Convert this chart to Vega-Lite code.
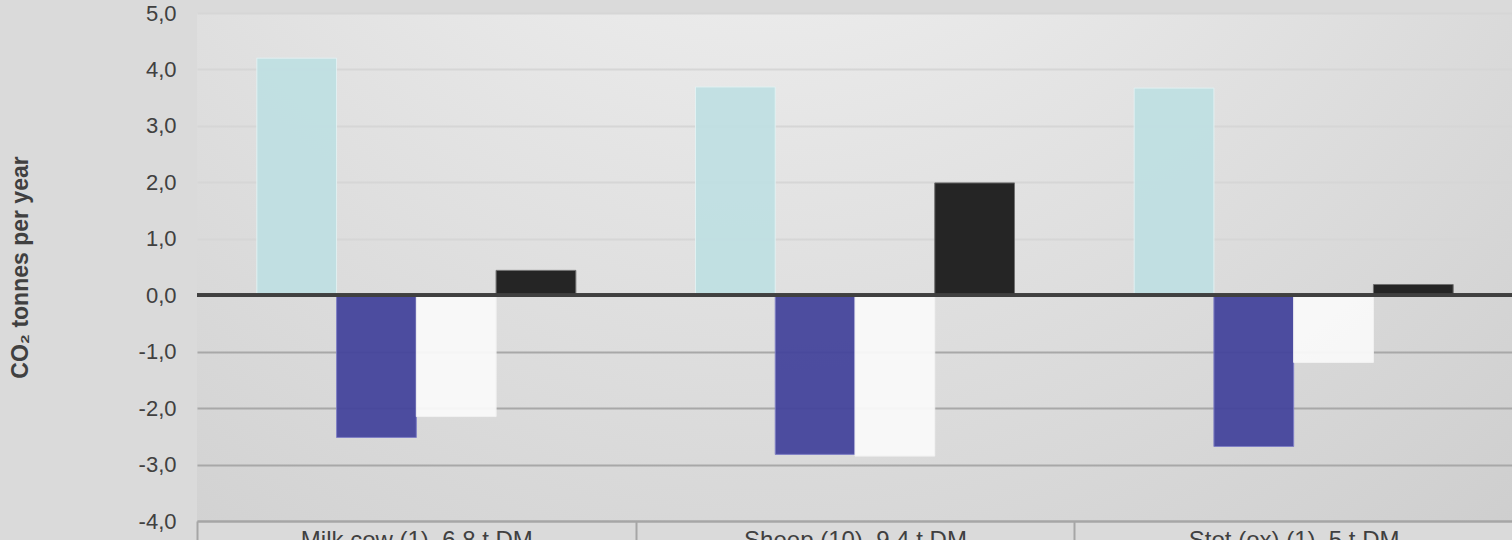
{
  "$schema": "https://vega.github.io/schema/vega-lite/v6.json",
  "width": 1316,
  "height": 508,
  "autosize": "none",
  "padding": {"left": 197, "top": 13, "right": 0, "bottom": 19},
  "background": "#dadada",
  "config": {
    "font": "Liberation Sans",
    "view": {
      "stroke": null,
      "fill": {
        "gradient": "radial",
        "x1": 0.43, "y1": 0.0, "r1": 0.0,
        "x2": 0.43, "y2": 0.0, "r2": 0.95,
        "stops": [
          {"offset": 0, "color": "#f9f9f9"},
          {"offset": 0.45, "color": "#e4e4e4"},
          {"offset": 1, "color": "#cccccc"}
        ]
      }
    }
  },
  "data": {
    "values": [
      {"animal": "Milk cow (1), 6.8 t DM", "series": "Emissions", "value": 4.20},
      {"animal": "Milk cow (1), 6.8 t DM", "series": "Sequestration A", "value": -2.52},
      {"animal": "Milk cow (1), 6.8 t DM", "series": "Sequestration B", "value": -2.15},
      {"animal": "Milk cow (1), 6.8 t DM", "series": "Net", "value": 0.44},
      {"animal": "Sheep (10), 9.4 t DM", "series": "Emissions", "value": 3.69},
      {"animal": "Sheep (10), 9.4 t DM", "series": "Sequestration A", "value": -2.82},
      {"animal": "Sheep (10), 9.4 t DM", "series": "Sequestration B", "value": -2.85},
      {"animal": "Sheep (10), 9.4 t DM", "series": "Net", "value": 1.99},
      {"animal": "Stot (ox) (1), 5 t DM", "series": "Emissions", "value": 3.67},
      {"animal": "Stot (ox) (1), 5 t DM", "series": "Sequestration A", "value": -2.68},
      {"animal": "Stot (ox) (1), 5 t DM", "series": "Sequestration B", "value": -1.19},
      {"animal": "Stot (ox) (1), 5 t DM", "series": "Net", "value": 0.19}
    ]
  },
  "layer": [
    {
      "mark": {"type": "bar", "strokeWidth": 1},
      "encoding": {
        "x": {
          "field": "animal",
          "type": "nominal",
          "sort": null,
          "scale": {"paddingInner": 0, "paddingOuter": 0},
          "axis": {
            "title": null,
            "labelAngle": 0,
            "labelFontSize": 24,
            "labelLimit": 0,
            "labelColor": "#404040",
            "labelPadding": -18,
            "labelBaseline": "top",
            "domainColor": "#a6a6a6",
            "domainWidth": 2,
            "tickColor": "#a6a6a6",
            "tickWidth": 2,
            "tickSize": 25,
            "tickBand": "extent",
            "grid": false
          }
        },
        "xOffset": {
          "field": "series",
          "type": "nominal",
          "sort": ["Emissions", "Sequestration A", "Sequestration B", "Net"],
          "scale": {"paddingInner": 0, "paddingOuter": 0.75}
        },
        "y": {
          "field": "value",
          "type": "quantitative",
          "scale": {"domain": [-4, 5], "nice": false, "zero": false},
          "axis": {
            "title": "CO₂ tonnes per year",
            "titleFontSize": 23,
            "titleFontWeight": "bold",
            "titleColor": "#404040",
            "titlePadding": 106,
            "labelFontSize": 22,
            "labelColor": "#404040",
            "labelPadding": 21,
            "values": [-4, -3, -2, -1, 0, 1, 2, 3, 4, 5],
            "labelExpr": "replace(replace(format(datum.value, '.1f'), '.', ','), '−', '-')",
            "domain": false,
            "ticks": false,
            "grid": true,
            "gridWidth": 2,
            "gridColor": {"condition": {"test": "datum.value < 0", "value": "#a8a8a8"}, "value": "#d6d6d6"}
          }
        },
        "color": {
          "field": "series",
          "type": "nominal",
          "legend": null,
          "scale": {
            "domain": ["Emissions", "Sequestration A", "Sequestration B", "Net"],
            "range": ["#c0e0e3", "#44449c", "#fafafa", "#1a1a1a"]
          }
        },
        "stroke": {
          "field": "series",
          "type": "nominal",
          "legend": null,
          "scale": {
            "domain": ["Emissions", "Sequestration A", "Sequestration B", "Net"],
            "range": ["#e2f2f3", "#7a7ac4", "#f4f4f4", "#6a6a6a"]
          }
        },
        "opacity": {"value": 0.94}
      }
    },
    {
      "mark": {"type": "rule", "color": "#404040", "strokeWidth": 3},
      "encoding": {"y": {"datum": 0}}
    }
  ]
}
